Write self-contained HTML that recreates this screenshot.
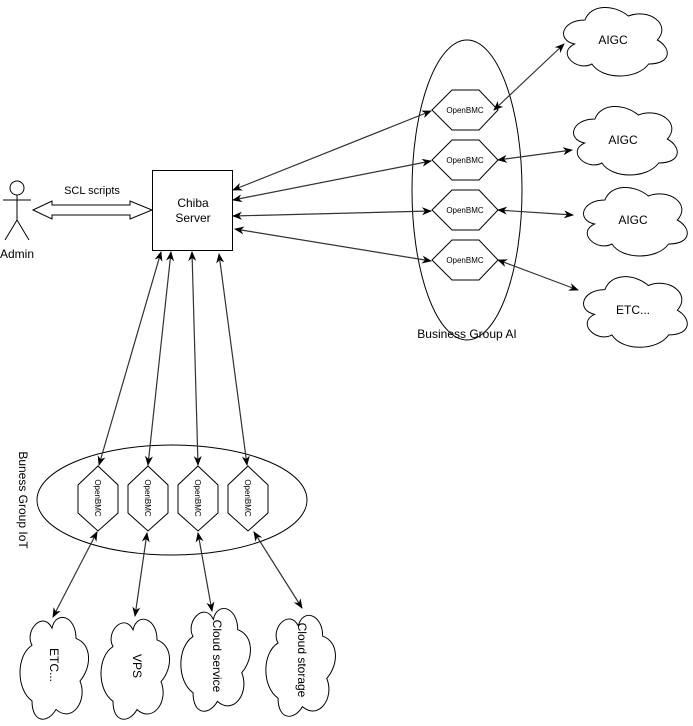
<!DOCTYPE html>
<html><head><meta charset="utf-8"><style>
html,body{margin:0;padding:0;background:#fff;}
svg{display:block;font-family:"Liberation Sans",sans-serif;}
</style></head><body>
<svg width="693" height="726" viewBox="0 0 693 726" xmlns="http://www.w3.org/2000/svg">
<defs>
<marker id="a" viewBox="0 0 10 10" refX="9" refY="5" markerWidth="10" markerHeight="10" markerUnits="userSpaceOnUse" orient="auto-start-reverse">
<path d="M0,1 L10,5 L0,9 L3,5 Z" fill="#000"/>
</marker>
<path id="cl" d="M30 20 C6 20 0 40 19.2 44 C0 52.8 21.6 72 37.2 64 C48 80 84 80 96 64 C120 64 120 48 105 40 C120 24 96 8 75 16 C60 4 36 4 30 20 Z"/>
</defs>
<g fill="#fff" stroke="#000" stroke-width="1">
<use href="#cl" transform="translate(556,0) scale(0.965,1.0)"/>
<use href="#cl" transform="translate(566,99) scale(0.965,1.0)"/>
<use href="#cl" transform="translate(576,180) scale(0.965,1.0)"/>
<use href="#cl" transform="translate(576,269) scale(0.965,1.03)"/>
<use href="#cl" transform="translate(96,610) rotate(90) scale(0.947,1.0)"/>
<use href="#cl" transform="translate(177,612) rotate(90) scale(0.93,1.0)"/>
<use href="#cl" transform="translate(258,601) rotate(90) scale(0.956,1.015)"/>
<use href="#cl" transform="translate(343,608) rotate(90) scale(0.939,1.015)"/>
<ellipse cx="467" cy="190" rx="55" ry="150"/>
<ellipse cx="172" cy="500" rx="135" ry="55"/>
<rect x="152.5" y="170.5" width="80" height="80"/>
<polygon points="432,110 452,90 479,90 498,110 479,130 452,130"/>
<polygon points="432,160 452,140 479,140 498,160 479,180 452,180"/>
<polygon points="432,210 452,190 479,190 498,210 479,230 452,230"/>
<polygon points="432,260 452,240 479,240 498,260 479,280 452,280"/>
<polygon points="98,466 118,485 118,513 98,531 78,513 78,485"/>
<polygon points="148,466 168,485 168,513 148,531 128,513 128,485"/>
<polygon points="198,466 218,485 218,513 198,531 178,513 178,485"/>
<polygon points="248,466 268,485 268,513 248,531 228,513 228,485"/>
<polygon points="33,210 52,201 52,205 130,205 130,201 152,210 130,219 130,215 52,215 52,219"/>
<circle cx="17" cy="188" r="7"/>
<path d="M17 195 V220 M3 200 H31 M17 220 L5 240 M17 220 L29 240" fill="none"/>
</g>
<g stroke="#333" stroke-width="1.2" fill="none" marker-start="url(#a)" marker-end="url(#a)">
<line x1="233" y1="190" x2="431" y2="111"/>
<line x1="233" y1="200" x2="431" y2="161"/>
<line x1="233" y1="216" x2="431" y2="211"/>
<line x1="235" y1="229" x2="431" y2="261"/>
<line x1="494" y1="110" x2="564" y2="44"/>
<line x1="498" y1="160" x2="572" y2="150"/>
<line x1="498" y1="210" x2="573" y2="215"/>
<line x1="498" y1="260" x2="578" y2="290"/>
<line x1="161" y1="252" x2="99" y2="465"/>
<line x1="171" y1="252" x2="148" y2="465"/>
<line x1="192" y1="252" x2="198" y2="465"/>
<line x1="219" y1="254" x2="247" y2="465"/>
<line x1="97" y1="532" x2="53" y2="617"/>
<line x1="147" y1="533" x2="135" y2="616"/>
<line x1="198" y1="533" x2="212" y2="611"/>
<line x1="254" y1="532" x2="302" y2="608"/>
</g>
<g font-size="12" fill="#000" text-anchor="middle">
<text x="613" y="44">AIGC</text>
<text x="623" y="144">AIGC</text>
<text x="633" y="224">AIGC</text>
<text x="633" y="314">ETC...</text>
<text x="193" y="207">Chiba</text>
<text x="193" y="222">Server</text>
<text x="92" y="194" font-size="11">SCL scripts</text>
<text x="17" y="258">Admin</text>
<text x="467" y="338">Business Group AI</text>
<g font-size="8">
<text x="465" y="113">OpenBMC</text>
<text x="465" y="163">OpenBMC</text>
<text x="465" y="213">OpenBMC</text>
<text x="465" y="263">OpenBMC</text>
<text transform="translate(95,498) rotate(90)">OpenBMC</text>
<text transform="translate(145,498) rotate(90)">OpenBMC</text>
<text transform="translate(195,498) rotate(90)">OpenBMC</text>
<text transform="translate(245,498) rotate(90)">OpenBMC</text>
</g>
<text transform="translate(19,500) rotate(90)">Buness Group IoT</text>
<text transform="translate(50,665) rotate(90)">ETC...</text>
<text transform="translate(133,666) rotate(90)">VPS</text>
<text transform="translate(213,656) rotate(90)">Cloud service</text>
<text transform="translate(298,660) rotate(90)">Cloud storage</text>
</g>
</svg>
</body></html>
